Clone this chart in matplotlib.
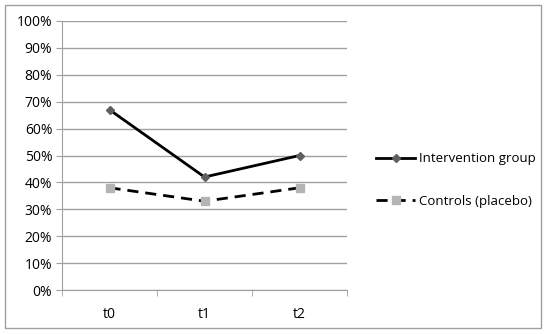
import matplotlib.pyplot as plt
from matplotlib.patches import Rectangle
from matplotlib.ticker import FuncFormatter

categories = ["t0", "t1", "t2"]
intervention = [67, 42, 50]
controls = [38, 33, 38]
yticks = [0, 10, 20, 30, 40, 50, 60, 70, 80, 90, 100]

plt.rcParams['font.family'] = ['Open Sans', 'DejaVu Sans']

fig = plt.figure(figsize=(5.5, 3.34), dpi=100)
ax = fig.add_axes([62/550, 1-290/334, (347-62)/550, (290-21)/334])

x = range(len(categories))
ax.plot(x, intervention, color='black', lw=2, marker='D', markersize=4.5,
        markerfacecolor='#5f5f5f', markeredgecolor='#5f5f5f', label='Intervention group', zorder=3)
ax.plot(x, controls, color='black', lw=2, ls=(0, (4, 2.5)), marker='s', markersize=6,
        markerfacecolor='#b4b4b4', markeredgecolor='#b4b4b4', label='Controls (placebo)', zorder=3)

ax.set_xlim(-0.5, 2.5)
ax.set_ylim(0, 100)
ax.set_yticks(yticks)
ax.yaxis.set_major_formatter(FuncFormatter(lambda v, p: f"{int(v)}%"))
ax.set_xticks(list(x))
ax.set_xticklabels(categories)
ax.set_xticks([-0.5, 0.5, 1.5, 2.5], minor=True)
ax.grid(axis='y', color='#a0a0a0', lw=1)
ax.set_axisbelow(True)
for s in ['top', 'right']:
    ax.spines[s].set_visible(False)
ax.spines['left'].set_color('#a0a0a0')
ax.spines['bottom'].set_color('#a0a0a0')
ax.tick_params(axis='y', length=4, color='#a0a0a0', labelsize=10, pad=3)
ax.tick_params(axis='x', which='major', length=0, labelsize=10, pad=12)
ax.tick_params(axis='x', which='minor', length=4, color='#a0a0a0')

leg = fig.legend(loc='center left', bbox_to_anchor=(364/550, 1-180/334), frameon=False,
                 fontsize=9.5, labelspacing=2.2, handlelength=3.0, handletextpad=0.3)

fig.patches.append(Rectangle((5/550, 1-328/334), 536/550, 323/334, transform=fig.transFigure,
                             fill=False, edgecolor='#a0a0a0', lw=1))

fig.savefig('out.png', dpi=100)
